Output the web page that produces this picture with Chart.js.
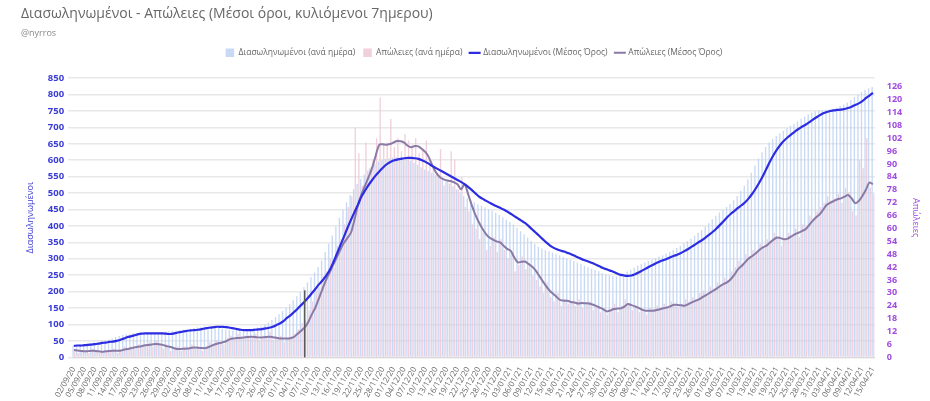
<!DOCTYPE html>
<html>
<head>
<meta charset="utf-8">
<script src="https://cdn.jsdelivr.net/npm/chart.js@4"></script>
<style>
html,body{margin:0;padding:0;background:#fff;}
#wrap{width:930px;height:401px;}
</style>
</head>
<body>
<div id="wrap"><canvas id="c" width="930" height="401"></canvas></div>
<script>
// ---- categories (daily, 02/09/20 .. 15/04/21) ----
const startDate = [2020, 8, 2];   // 02/09/2020
const dayCount = 226;
const dates = [];
for (let k = 0; k < dayCount; k++) {
  const d = new Date(Date.UTC(startDate[0], startDate[1], startDate[2] + k));
  const dd = String(d.getUTCDate()).padStart(2, '0');
  const mm = String(d.getUTCMonth() + 1).padStart(2, '0');
  const yy = String(d.getUTCFullYear()).slice(2);
  dates.push(dd + '/' + mm + '/' + yy);
}

// ---- series ----
const intubatedDaily = [
 36,38,39,40,42,44,46,47,49,51,
 54,58,62,65,68,70,72,74,73,73,
 74,72,72,70,71,76,78,80,81,82,
 83,84,85,87,89,91,92,94,93,94,
 92,89,87,85,83,82,83,84,84,86,
 87,89,91,95,100,106,114,122,131,141,
 151,162,174,186,199,213,228,244,258,275,
 295,321,346,372,398,425,449,472,494,512,
 528,543,556,569,580,589,596,601,604,606,
 608,609,607,605,602,598,592,586,579,572,
 567,561,555,549,543,536,529,521,512,502,
 492,484,478,472,466,461,456,451,446,440,
 433,426,419,412,404,394,384,374,364,354,
 345,337,331,327,323,319,315,311,306,301,
 297,293,289,284,279,274,270,266,262,257,
 253,250,248,247,250,255,261,267,273,279,
 284,289,294,298,302,307,311,316,321,327,
 333,340,347,354,362,370,379,388,398,409,
 420,431,441,450,458,467,478,491,506,522,
 541,562,584,605,624,640,654,665,674,682,
 690,698,705,711,718,726,733,740,745,749,
 751,753,754,755,757,760,765,770,776,783,
 792,800,808,814,819,823
];
const deathsDaily = [
 4,2,3,3,2,4,3,2,3,3,
 3,4,2,3,5,4,5,4,6,5,
 6,7,5,8,6,4,5,3,4,5,
 3,5,4,6,4,5,3,5,7,6,
 8,7,6,9,10,8,11,9,10,10,
 9,11,8,10,9,12,8,9,10,7,
 9,10,11,13,16,17,22,26,31,33,
 38,40,46,42,52,55,62,70,75,107,
 95,80,100,88,92,102,121,99,100,111,
 98,102,96,104,101,99,102,95,97,101,
 92,88,85,97,80,83,96,92,78,84,
 70,68,62,60,55,58,50,52,56,49,
 55,50,46,48,40,43,47,41,44,38,
 36,33,30,35,28,26,30,24,27,25,
 26,24,27,23,25,26,22,24,21,23,
 20,22,25,21,24,27,25,22,24,21,
 22,20,23,21,24,22,25,23,26,24,
 23,25,27,26,28,27,30,31,29,33,
 32,35,34,37,36,40,42,45,43,48,
 47,50,49,53,51,55,54,58,56,52,
 55,58,57,60,56,62,61,66,64,68,
 70,72,75,73,74,76,72,79,77,68,
 66,92,88,102,79,76
];
const intubatedAvg = [
 35,36,36,37,38,39,40,42,44,45,
 47,48,50,53,57,61,64,67,70,72,
 73,73,73,73,73,73,72,71,72,75,
 77,79,81,82,83,84,86,88,90,91,
 93,93,93,92,90,88,86,84,83,83,
 83,84,85,86,88,90,93,98,103,110,
 120,128,138,148,159,170,182,195,208,222,
 234,248,265,288,314,340,366,393,418,442,
 465,490,508,525,540,554,566,577,587,594,
 599,602,604,606,607,607,606,604,600,595,
 589,582,576,570,564,558,552,546,540,534,
 527,519,510,500,490,483,477,471,465,460,
 455,450,444,437,430,423,416,409,400,390,
 380,370,360,350,341,334,329,325,322,318,
 314,309,304,299,295,291,287,282,277,272,
 268,264,260,255,251,249,248,249,253,258,
 264,270,276,281,287,292,296,300,305,309,
 313,318,324,330,337,344,351,358,366,374,
 383,393,404,415,427,437,446,455,463,472,
 484,498,514,532,552,574,596,616,633,648,
 660,670,679,687,695,702,708,715,723,730,
 737,743,747,750,752,753,754,756,759,763,
 768,773,780,789,797,805
];
const deathsAvg = [
 3.4,3.2,3.0,2.8,2.9,3.1,3.0,2.8,2.6,2.8,
 3.0,3.1,3.1,3.1,3.5,3.9,4.2,4.6,4.9,5.2,
 5.6,5.8,6.0,6.2,6.1,5.8,5.3,4.9,4.4,3.9,
 3.9,4.0,4.1,4.4,4.6,4.5,4.3,4.3,4.8,5.6,
 6.2,6.7,7.0,7.6,8.5,8.8,9.0,9.1,9.3,9.5,
 9.6,9.5,9.3,9.3,9.5,9.6,9.4,9.1,8.8,8.8,
 8.8,8.9,9.5,11.0,12.4,13.9,16.5,20.0,23.2,27.5,
 31.8,36.0,39.5,43.0,46.5,50.0,53.2,55.5,58.0,64.0,
 71.0,76.0,80.0,84.0,88.3,94.0,99.0,99.2,99.0,99.3,
 100.0,100.7,100.6,100.0,98.5,97.8,98.4,98.2,97.0,95.5,
 93.0,89.0,86.0,84.0,83.0,82.4,82.1,81.5,80.6,78.2,
 80.6,76.0,71.0,66.6,63.0,60.0,57.5,55.8,54.8,54.0,
 53.5,52.0,50.5,49.6,46.5,44.2,44.5,44.6,43.5,42.3,
 40.5,38.0,35.5,33.0,31.0,29.5,28.0,26.6,26.4,26.3,
 25.8,25.5,25.1,25.3,25.2,25.1,24.6,24.0,23.2,22.5,
 21.4,21.8,22.5,22.7,22.8,23.6,24.8,24.3,23.7,23.0,
 22.2,21.7,21.7,21.7,22.0,22.4,22.9,23.2,23.8,24.5,
 24.4,24.2,24.0,24.8,25.6,26.3,27.0,28.0,29.0,30.0,
 31.0,32.0,33.2,34.2,35.0,36.5,38.5,41.0,42.5,44.3,
 46.0,47.2,48.5,50.0,51.2,52.0,53.5,54.8,55.8,55.5,
 55.0,55.3,56.3,57.3,58.0,58.8,59.6,61.5,63.5,65.2,
 66.6,68.8,71.0,72.0,72.8,73.6,74.0,74.8,75.6,74.0,
 71.8,72.8,75.1,78.0,81.4,80.6
];

// ---- axis ticks / markers ----
const leftTicks = {min: 0, max: 850, step: 50};
const rightTicks = {min: 0, max: 130, step: 6, lastLabel: 126};
const markerDates = ['06/11/20'];
const markerHeights = [204];

const markerPlugin = {
  id: 'markers',
  afterDatasetsDraw(chart) {
    const {ctx, scales} = chart;
    ctx.save();
    ctx.strokeStyle = '#5a5a5a';
    ctx.lineWidth = 1.5;
    markerDates.forEach((d, k) => {
      const idx = dates.indexOf(d);
      if (idx < 0) return;
      const x = scales.x.getPixelForValue(idx);
      ctx.beginPath();
      ctx.moveTo(x, scales.y.getPixelForValue(0));
      ctx.lineTo(x, scales.y.getPixelForValue(markerHeights[k]));
      ctx.stroke();
    });
    ctx.restore();
  }
};

const legendSpacer = {
  id: 'legendSpacer',
  beforeInit(chart) {
    const orig = chart.legend.fit;
    chart.legend.fit = function () {
      orig.bind(chart.legend)();
      this.height += 11;
    };
  }
};

const FONT = "'Open Sans', 'Noto Sans', sans-serif";
Chart.defaults.font.family = FONT;

new Chart(document.getElementById('c'), {
  type: 'bar',
  data: {
    labels: dates,
    datasets: [
      {label: 'Διασωληνωμένοι (ανά ημέρα)', data: intubatedDaily, yAxisID: 'y',
       backgroundColor: 'rgba(190,210,245,0.85)', order: 2, pointStyle: 'rect',
       categoryPercentage: 0.95, barPercentage: 0.8},
      {label: 'Απώλειες (ανά ημέρα)', data: deathsDaily, yAxisID: 'y1',
       backgroundColor: 'rgba(236,200,214,0.85)', order: 2, pointStyle: 'rect',
       categoryPercentage: 0.95, barPercentage: 0.8},
      {label: 'Διασωληνωμένοι (Μέσος Όρος)', data: intubatedAvg, yAxisID: 'y', type: 'line',
       borderColor: '#2c2ce0', backgroundColor: '#2c2ce0', borderWidth: 2.2,
       pointRadius: 0, tension: 0.35, order: 1, pointStyle: 'line'},
      {label: 'Απώλειες (Μέσος Όρος)', data: deathsAvg, yAxisID: 'y1', type: 'line',
       borderColor: '#8a7aa6', backgroundColor: '#8a7aa6', borderWidth: 2,
       pointRadius: 0, tension: 0.3, order: 1, pointStyle: 'line'}
    ]
  },
  options: {
    responsive: false,
    animation: false,
    layout: {padding: {left: 21, right: 3, top: 4, bottom: 2}},
    plugins: {
      title: {display: true, text: 'Διασωληνωμένοι - Απώλειες (Μέσοι όροι, κυλιόμενοι 7ημερου)',
              align: 'start', color: '#666', font: {size: 14, weight: 'normal'},
              padding: {top: 2, bottom: 5}},
      subtitle: {display: true, text: '@nyrros', align: 'start', color: '#888',
                 font: {size: 9}, padding: {bottom: 2}},
      legend: {position: 'top',
               labels: {usePointStyle: true, color: '#666',
               font: {size: 8.5}, boxWidth: 9, boxHeight: 9, padding: 8,
               sort: (a, b) => a.datasetIndex - b.datasetIndex}},
      tooltip: {enabled: false}
    },
    scales: {
      x: {
        grid: {display: false},
        border: {color: '#d8d8d8'},
        ticks: {autoSkip: false, maxRotation: 60, minRotation: 60, color: '#666',
                font: {size: 8}, padding: 0,
                callback: (v, i) => (i % 3 === 0 ? dates[i] : '')}
      },
      y: {
        position: 'left', min: leftTicks.min, max: leftTicks.max,
        ticks: {autoSkip: false, stepSize: leftTicks.step, color: '#3b3bd6', font: {size: 9.5, weight: 'bold'}, padding: 4},
        grid: {color: '#e8e8e8', lineWidth: 1.5, tickLength: 4},
        border: {display: false},
        title: {display: true, text: 'Διασωληνωμένοι', color: '#3b3bd6', font: {size: 9},
                padding: {top: 4, bottom: 8}}
      },
      y1: {
        position: 'right', min: rightTicks.min, max: rightTicks.max,
        afterBuildTicks: s => {
          const t = [];
          for (let v = rightTicks.min; v <= rightTicks.lastLabel; v += rightTicks.step) t.push({value: v});
          s.ticks = t;
        },
        ticks: {autoSkip: false, stepSize: rightTicks.step, color: '#a04ce0', font: {size: 9, weight: 'bold'}, padding: 4},
        grid: {display: false},
        border: {display: false},
        title: {display: true, text: 'Απώλειες', color: '#a04ce0', font: {size: 9},
                padding: {top: 6, bottom: 4}}
      }
    }
  },
  plugins: [markerPlugin, legendSpacer]
});
</script>
</body>
</html>
